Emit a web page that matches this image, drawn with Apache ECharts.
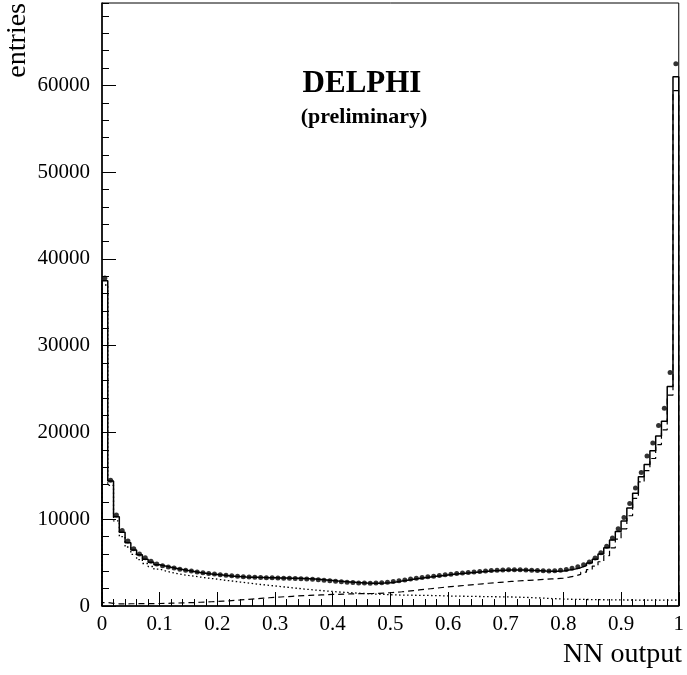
<!DOCTYPE html>
<html>
<head>
<meta charset="utf-8">
<script src="https://cdn.jsdelivr.net/npm/echarts@6/dist/echarts.min.js"></script>
<style>
html,body{margin:0;padding:0;background:#fff;}
#chart{width:687px;height:675px;}
</style>
</head>
<body>
<div id="chart"></div>
<script>
// ---- data (100 bins of width 0.01 in NN output) ----
var binWidth = 0.01;
var xTicks = [0, 0.1, 0.2, 0.3, 0.4, 0.5, 0.6, 0.7, 0.8, 0.9, 1];
var yTicks = [0, 10000, 20000, 30000, 40000, 50000, 60000];

// total simulation (solid histogram)
var totalMC = [
  37500,14400,10300,8500,7300,6450,5900,5400,5050,4750,
  4600,4460,4330,4200,4080,3980,3870,3780,3700,3630,
  3560,3500,3440,3390,3350,3320,3300,3290,3270,3260,
  3240,3220,3200,3190,3180,3150,3110,3060,3000,2940,
  2880,2830,2780,2730,2690,2650,2620,2610,2640,2690,
  2770,2870,2980,3080,3170,3260,3340,3420,3500,3580,
  3650,3720,3780,3840,3900,3960,4010,4060,4100,4120,
  4140,4150,4140,4120,4090,4060,4030,4010,4000,4040,
  4150,4250,4420,4650,4950,5400,6000,6700,7600,8600,
  9800,11300,13000,14900,16300,17900,19600,21300,25300,61000
];
// background component (dotted histogram)
var dottedMC = [
  37000,13900,9800,8000,6800,5950,5350,4900,4550,4250,
  4050,3880,3740,3620,3520,3430,3340,3250,3170,3090,
  3000,2920,2840,2760,2680,2600,2520,2450,2380,2310,
  2240,2170,2100,2030,1960,1900,1840,1780,1720,1670,
  1620,1580,1540,1500,1460,1420,1390,1360,1330,1300,
  1280,1260,1250,1240,1230,1220,1210,1200,1180,1160,
  1140,1130,1120,1110,1100,1090,1080,1070,1060,1050,
  1040,1020,1000,980,950,920,890,860,830,800,
  780,770,760,750,740,730,720,710,700,700,
  690,690,680,680,680,670,670,670,680,700
];
// signal component (dashed histogram)
var dashedMC = [
  400,300,250,250,260,260,270,270,280,290,
  300,320,340,360,380,400,430,460,490,520,
  560,600,650,700,750,800,850,900,950,1000,
  1040,1080,1120,1160,1190,1220,1250,1280,1300,1330,
  1350,1370,1390,1410,1420,1430,1440,1460,1490,1530,
  1580,1640,1710,1780,1850,1920,1990,2060,2130,2200,
  2260,2320,2380,2440,2500,2560,2620,2680,2730,2780,
  2830,2880,2920,2960,3000,3040,3080,3120,3160,3220,
  3320,3450,3650,3900,4200,4600,5100,5800,6700,7700,
  8900,10400,12400,14300,15600,17000,18600,20300,24300,59400
];
// real data (points)
var realData = [
  37800,14500,10500,8700,7500,6600,6000,5550,5150,4850,
  4650,4500,4380,4250,4120,4020,3920,3830,3750,3680,
  3600,3540,3480,3420,3380,3340,3310,3290,3270,3250,
  3230,3210,3190,3170,3150,3120,3080,3030,2970,2910,
  2850,2790,2740,2700,2660,2640,2630,2640,2680,2730,
  2810,2900,3000,3100,3190,3280,3360,3440,3520,3600,
  3670,3740,3810,3870,3930,3980,4030,4080,4120,4150,
  4170,4180,4170,4150,4120,4080,4050,4040,4060,4120,
  4220,4350,4520,4760,5060,5520,6150,6900,7850,8900,
  10200,11800,13600,15400,17300,18800,20800,22800,26900,62500
];

function histPoints(vals) {
  var pts = [[0, 0]];
  for (var i = 0; i < vals.length; i++) pts.push([i * binWidth, vals[i]]);
  pts.push([vals.length * binWidth, vals[vals.length - 1]]);
  pts.push([vals.length * binWidth, 0]);
  return pts;
}
function centerPoints(vals) {
  return vals.map(function (v, i) { return [(i + 0.5) * binWidth, v]; });
}

var serif = '"Liberation Serif", "DejaVu Serif", serif';
var chart = echarts.init(document.getElementById('chart'), null, {renderer: 'canvas'});
chart.setOption({
  animation: false,
  backgroundColor: '#fff',
  grid: {left: 102, right: 6, top: 3, bottom: 69, show: true, borderColor: '#000', borderWidth: 1, containLabel: false},
  xAxis: [{
    type: 'value', min: 0, max: 1, interval: 0.1,
    axisLine: {show: true, lineStyle: {color: '#000', width: 1.5}},
    axisTick: {show: true, inside: true, length: 14, lineStyle: {color: '#000', width: 1}},
    minorTick: {show: true, splitNumber: 5, length: 7, lineStyle: {color: '#000', width: 1}},
    axisLabel: {
      margin: 8, color: '#000', fontFamily: serif, fontSize: 21,
      customValues: xTicks,
      formatter: function (v) { return String(Math.round(v * 10) / 10); }
    },
    splitLine: {show: false}, minorSplitLine: {show: false}
  }],
  yAxis: [{
    type: 'value', min: 0, max: 69500, interval: 10000,
    axisLine: {show: true, lineStyle: {color: '#000', width: 1.5}},
    axisTick: {show: true, inside: true, length: 14, lineStyle: {color: '#000', width: 1}},
    axisLabel: {
      margin: 12, color: '#000', fontFamily: serif, fontSize: 21, showMaxLabel: false,
      formatter: function (v) { return yTicks.indexOf(v) >= 0 ? String(v) : ''; }
    },
    splitLine: {show: false}
  }, {
    type: 'value', min: 0, max: 69500, interval: 2000, position: 'left',
    axisLine: {show: false},
    axisTick: {show: true, inside: true, length: 7, lineStyle: {color: '#000', width: 1}},
    axisLabel: {show: false},
    splitLine: {show: false}
  }],
  series: [
    {
      name: 'background', type: 'line', step: 'end', showSymbol: false, symbol: 'none',
      data: histPoints(dottedMC),
      lineStyle: {color: '#000', width: 1.3, type: [1.5, 2.5]}
    },
    {
      name: 'signal', type: 'line', step: 'end', showSymbol: false, symbol: 'none',
      data: histPoints(dashedMC),
      lineStyle: {color: '#000', width: 1.2, type: [6, 4]}
    },
    {
      name: 'simulation', type: 'line', step: 'end', showSymbol: false, symbol: 'none',
      data: histPoints(totalMC),
      lineStyle: {color: '#000', width: 1.5}
    },
    {
      name: 'data', type: 'scatter', symbol: 'circle', symbolSize: 5,
      data: centerPoints(realData),
      itemStyle: {color: '#000'}
    }
  ],
  graphic: [
    {type: 'text', x: 362, y: 84, style: {text: 'DELPHI', font: 'bold 31px ' + serif, fill: '#000', textAlign: 'center', textVerticalAlign: 'middle'}},
    {type: 'text', x: 364, y: 117, style: {text: '(preliminary)', font: 'bold 22px ' + serif, fill: '#000', textAlign: 'center', textVerticalAlign: 'middle'}},
    {type: 'text', x: 18, y: 3, rotation: Math.PI / 2, style: {text: 'entries', font: '28px ' + serif, fill: '#000', textAlign: 'right', textVerticalAlign: 'middle'}},
    {type: 'text', x: 682, y: 655, style: {text: 'NN output', font: '28px ' + serif, fill: '#000', textAlign: 'right', textVerticalAlign: 'middle'}}
  ]
});
</script>
</body>
</html>
